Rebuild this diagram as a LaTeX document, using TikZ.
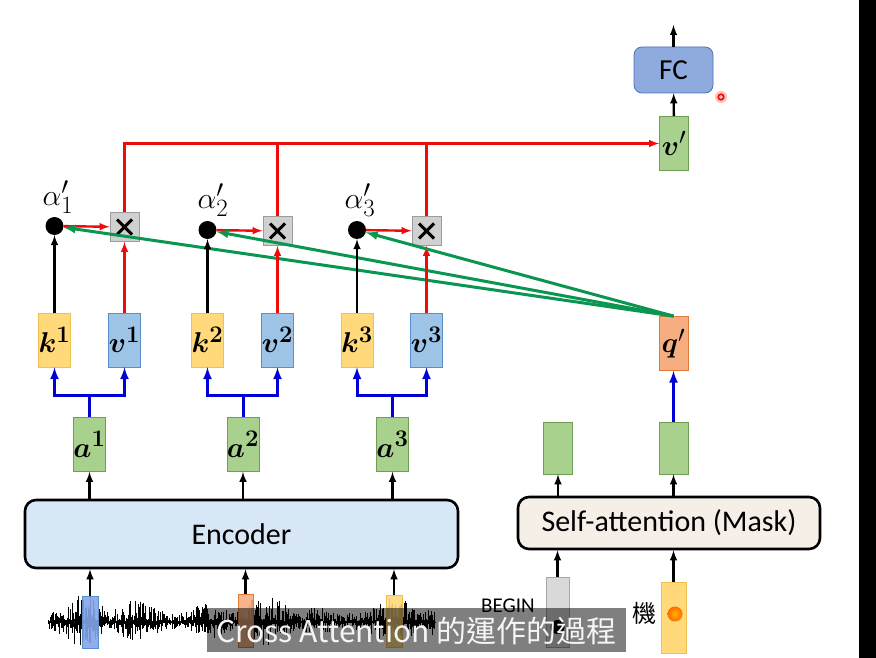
\documentclass[tikz,border=0pt]{standalone}
\usepackage{bm}
\usepackage{fontspec}
\setmainfont{Carlito}
\newfontfamily\cjk{Noto Sans CJK TC}
\newcommand\bigmath[2]{\scalebox{#1}{\Huge$#2$}}

\definecolor{afill}{HTML}{A9D18E}
\definecolor{aline}{HTML}{6F9F52}
\definecolor{kfill}{HTML}{FFD97A}
\definecolor{kline}{HTML}{F0C050}
\definecolor{vfill}{HTML}{9DC3E6}
\definecolor{vline}{HTML}{5B8FC9}
\definecolor{qfill}{HTML}{F6AE80}
\definecolor{qline}{HTML}{E07B3C}
\definecolor{fcfill}{HTML}{8FAADC}
\definecolor{fcline}{HTML}{4A72C0}
\definecolor{xfill}{HTML}{D0D0D0}
\definecolor{xline}{HTML}{9C9C9C}
\definecolor{encfill}{HTML}{D8E7F6}
\definecolor{safill}{HTML}{F5EFE8}
\definecolor{gfill}{HTML}{D9D9D9}
\definecolor{linkred}{RGB}{240,10,10}
\definecolor{linkblue}{RGB}{0,0,215}
\definecolor{linkgreen}{RGB}{10,150,80}

\begin{document}
\begin{tikzpicture}[x=1pt,y=-1pt,>=latex,
	cell/.style={draw,minimum width=29pt,minimum height=54pt,inner sep=0pt,line width=.8pt},
	acell/.style={cell,fill=afill,draw=aline},
	kcell/.style={cell,fill=kfill,draw=kline},
	vcell/.style={cell,fill=vfill,draw=vline},
	dot/.style={circle,fill=black,minimum size=18pt,inner sep=0pt},
	xbox/.style={draw=xline,fill=xfill,minimum size=29pt,inner sep=0pt,line width=.8pt},
	cross/.style={line width=3pt},
	block/.style={draw,rounded corners=11pt,line width=2.6pt,font=\fontsize{30}{34}\selectfont},
	blk/.style={line width=2.4pt},
	blu/.style={linkblue,line width=3pt},
	rd/.style={linkred,line width=2.4pt},
	grn/.style={linkgreen,line width=3pt},
	wave/.style={line width=1pt}]
	\useasboundingbox (0,0) rectangle (876,658);
	\fill[white] (0,0) rectangle (876,658);
	\fill[black] (859,0) rectangle (876,658);

	% encoder side
	\node[block,fill=encfill,minimum width=433pt,minimum height=68pt] (enc) at (241.5,534) {Encoder};
	\node[acell] (a1) at (89.5,444.5) {\bigmath{1.15}{\bm{a}^{\bm{1}}}};
	\node[acell] (a2) at (243,444.5) {\bigmath{1.15}{\bm{a}^{\bm{2}}}};
	\node[acell] (a3) at (392.5,444.5) {\bigmath{1.15}{\bm{a}^{\bm{3}}}};
	\node[kcell] (k1) at (54.5,340) {\bigmath{1.15}{\bm{k}^{\bm{1}}}};
	\node[vcell] (v1) at (124.5,340) {\bigmath{1.15}{\bm{v}^{\bm{1}}}};
	\node[kcell] (k2) at (207.5,340) {\bigmath{1.15}{\bm{k}^{\bm{2}}}};
	\node[vcell] (v2) at (277.5,340) {\bigmath{1.15}{\bm{v}^{\bm{2}}}};
	\node[kcell] (k3) at (357,340) {\bigmath{1.15}{\bm{k}^{\bm{3}}}};
	\node[vcell] (v3) at (426.5,340) {\bigmath{1.15}{\bm{v}^{\bm{3}}}};

	\node[dot] (d1) at (54.5,226) {};
	\node[dot] (d2) at (207.5,230) {};
	\node[dot] (d3) at (357,230) {};
	\node (l1) at (58,197) {\bigmath{1.2}{\alpha'_1}};
	\node (l2) at (213,200) {\bigmath{1.2}{\alpha'_2}};
	\node (l3) at (360,200) {\bigmath{1.2}{\alpha'_3}};
	\node[xbox] (x1) at (124.5,227) {};
	\node[xbox] (x2) at (277.5,231) {};
	\node[xbox] (x3) at (426.5,231) {};
	\foreach \n in {1,2,3}
		\draw[cross] (x\n.center) +(-7.5,-7.5) -- +(7.5,7.5) +(-7.5,7.5) -- +(7.5,-7.5);

	% decoder side
	\node[block,fill=safill,minimum width=302pt,minimum height=52pt] (sa) at (669,523) {Self-attention (Mask)};
	\node[acell,minimum height=52pt] (g1) at (558,448) {};
	\node[acell,minimum height=52pt] (g2) at (673.5,448) {};
	\node[cell,fill=qfill,draw=qline] (q) at (673.5,343.5) {\bigmath{1.15}{\bm{q}'}};
	\node[acell] (vp) at (674,143.5) {\bigmath{1.15}{\bm{v}'}};
	\node[draw=fcline,fill=fcfill,rounded corners=8pt,line width=.8pt,minimum width=79pt,minimum height=46pt,
		font=\fontsize{29}{32}\selectfont] (fc) at (673.5,70) {FC};
	\coordinate (out) at (673.5,25);

	% forks a -> k, v
	\path (a1.north) ++(0,-22) coordinate (f1);
	\path (a2.north) ++(0,-22) coordinate (f2);
	\path (a3.north) ++(0,-22) coordinate (f3);
	\foreach \n in {1,2,3}{
		\draw[blu] (a\n.north) -- (f\n);
		\draw[blu,->] (f\n) -| (k\n);
		\draw[blu,->] (f\n) -| (v\n);
		\draw[blk,->] (enc.north -| a\n) -- (a\n);
		\draw[blk,->] (k\n) -- (d\n);
		\draw[rd,->] (v\n) -- (x\n);
		\draw[rd,->] (d\n) -- (x\n);
		\draw[grn,->] (q.north) -- (d\n);
	}
	\draw[rd,->] (x1.north) |- (vp.west);
	\draw[rd] (x2.north) -- (x2.north |- vp.west);
	\draw[rd] (x3.north) -- (x3.north |- vp.west);
	\draw[blk,->] (vp) -- (fc);
	\draw[blk,->] (fc.north) -- (out);

	\draw[blk,->] (sa.north -| g1) -- (g1);
	\draw[blk,->] (sa.north -| g2) -- (g2);
	\draw[blu,->] (g2) -- (q);

	% waveform
	\pgfmathsetseed{42}
	\draw[wave] (48,622) -- (436,622);
	\foreach \i in {0,...,386}{
		\pgfmathsetmacro\env{0.3+0.7*abs(sin(\i*2.9))*abs(sin(\i*1.1+40))}
		\pgfmathsetmacro\up{\env*(2+26*rnd^1.3)}
		\pgfmathsetmacro\dn{\env*(2+22*rnd^1.3)}
		\draw[wave] (48+\i,622-\up) -- (48+\i,622+\dn);
	}
	\node[draw=vline,fill=vfill!85!blue,fill opacity=.9,minimum width=16pt,minimum height=52pt,inner sep=0pt] (w1) at (90,622) {};
	\node[draw=qline,fill=qfill,fill opacity=.9,minimum width=15pt,minimum height=53pt,inner sep=0pt] (w2) at (245.5,620.5) {};
	\node[draw=kline,fill=kfill,fill opacity=.9,minimum width=16pt,minimum height=52pt,inner sep=0pt] (w3) at (394,621) {};
	\foreach \n in {1,2,3}
		\draw[blk,->] (w\n.north) -- (w\n.north |- enc.south);

	% decoder inputs
	\node[draw=gray!70,fill=gfill,minimum width=23pt,minimum height=70pt,inner sep=0pt] (bg) at (557.5,612) {};
	\node[circle,fill=black,minimum size=14pt,inner sep=0pt] (bd) at (557.5,627) {};
	\node[font=\fontsize{21}{24}\selectfont] (bt) at (508,606) {BEGIN};
	\node[draw=kline,fill=kfill,minimum width=25pt,minimum height=71pt,inner sep=0pt] (ji) at (673.5,617.5) {};
	\shade[inner color=orange!60!yellow,outer color=orange!85!red] (675,614) circle (7.5);
	\node[font=\cjk\fontsize{24}{26}\selectfont] (jt) at (644,613) {機};
	\draw[blk,->] (bg.north) -- (bg.north |- sa.south);
	\draw[blk,->] (ji.north) -- (ji.north |- sa.south);

	% pointer and subtitle
	\fill[red,opacity=.25] (721,97) circle (6);
	\draw[red,line width=1.6pt] (721,97) circle (2.8);
	\fill[black,opacity=.5] (207,608) rectangle (626,652);
	\node[white!92!gray,font=\cjk\fontsize{30}{32}\selectfont] (sub) at (416.5,631) {Cross Attention 的運作的過程};
\end{tikzpicture}
\end{document}
